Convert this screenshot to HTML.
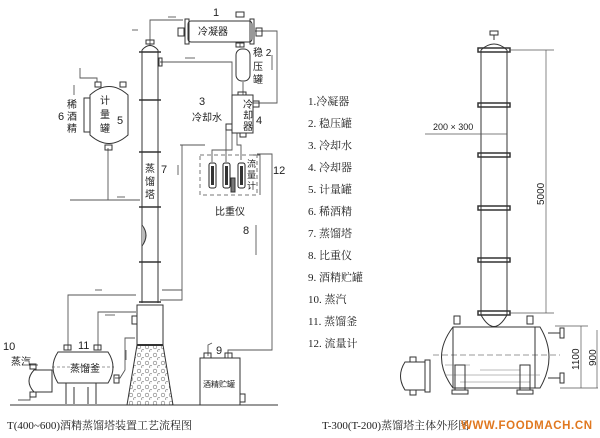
<!DOCTYPE html>
<html><head><meta charset="utf-8"><style>
html,body{margin:0;padding:0;background:#fff;}
svg{display:block;}
text{font-family:"Liberation Sans","Noto Sans CJK SC",sans-serif;fill:#222;}
.s{font-family:"Liberation Serif","Noto Serif CJK SC",serif;}
</style></head><body>
<svg width="600" height="438" viewBox="0 0 600 438" xmlns="http://www.w3.org/2000/svg">
<defs>
<pattern id="bub" width="8" height="8" patternUnits="userSpaceOnUse"><circle cx="3" cy="3" r="1.8" fill="none" stroke="#777" stroke-width="0.6"/><circle cx="7" cy="7" r="1.4" fill="none" stroke="#777" stroke-width="0.6"/></pattern>
</defs>
<g fill="none" stroke="#333" stroke-width="1">
<g stroke="#555" stroke-width="0.9">
<polyline points="150,45 150,20 183,20"/>
<polyline points="255,31 277,31 277,103 253,103"/>
<polyline points="240,42 240,47"/><polyline points="243,82 243,95"/>
<polyline points="160,62 232,62 232,150 212,150 212,162"/>
<polyline points="180,145 205,145"/>
<polyline points="182,145 182,300 160,300"/>
<polyline points="237,133 237,145 241,145 241,160"/>
<polyline points="226,125 226,162"/>
<polyline points="250,155 260,155 260,195"/>
<polyline points="257,154 272,154 272,350 228,350 228,358"/>
<polyline points="137,200 70,200"/><polyline points="80,68 80,78 97,78 97,82"/>
<polyline points="108,148 108,200 140,200"/>
<polyline points="162,290 182,290"/>
<polyline points="136,295 68,295 68,350"/>
<polyline points="136,312 98,312 98,350"/>
<polyline points="135,338 125,338 125,370 120,378 115,378"/>
<polyline points="208,356 208,345 212,343"/>
<polyline points="22,365 38,365"/><polyline points="30,395 30,400 18,400"/>
</g>
<g stroke="#444" stroke-width="0.8">
<line x1="132" y1="30" x2="138" y2="30"/><line x1="168" y1="17" x2="176" y2="17"/>
<line x1="185" y1="58" x2="195" y2="58"/><line x1="272" y1="55" x2="272" y2="70"/>
<line x1="74" y1="85" x2="74" y2="95"/><line x1="178" y1="165" x2="178" y2="175"/>
<line x1="256" y1="225" x2="256" y2="255"/><line x1="95" y1="290" x2="102" y2="290"/>
<line x1="105" y1="315" x2="115" y2="315"/><line x1="126" y1="350" x2="126" y2="360"/>
<line x1="117" y1="197" x2="125" y2="197"/>
</g>
<rect x="188" y="21" width="64" height="21" rx="3"/>
<rect x="185" y="19" width="4" height="25"/><rect x="250" y="19" width="4" height="25"/>
<rect x="178" y="28" width="6" height="8"/><rect x="256" y="28" width="6" height="8"/>
<rect x="236" y="12" width="8" height="5"/><rect x="236" y="43" width="8" height="4"/>
<rect x="236" y="49" width="14" height="32" rx="6"/>
<rect x="232" y="95" width="21" height="38"/>
<rect x="226" y="124" width="6" height="6"/><rect x="253" y="101" width="6" height="6"/>
<rect x="238" y="92" width="8" height="3"/><rect x="240" y="133" width="6" height="4"/>
<path d="M90,95 Q109,78 128,95 L128,135 Q109,152 90,135 Z"/>
<rect x="84" y="98" width="6" height="34"/>
<rect x="95" y="82" width="6" height="5"/><rect x="120" y="82" width="6" height="5"/><rect x="105" y="145" width="7" height="5"/>
<path d="M142,50 Q150,41 158,50"/><rect x="146" y="40" width="8" height="4"/>
<line x1="142" y1="50" x2="142" y2="303"/><line x1="158" y1="50" x2="158" y2="303"/>
<g stroke-width="1.5"><line x1="139" y1="52" x2="161" y2="52"/><line x1="139" y1="100" x2="161" y2="100"/><line x1="139" y1="152" x2="161" y2="152"/><line x1="139" y1="207" x2="161" y2="207"/><line x1="139" y1="262" x2="161" y2="262"/><line x1="139" y1="302" x2="161" y2="302"/></g>
<rect x="159" y="58" width="3" height="8"/>
<path d="M142,225 Q150,235 142,246" fill="#bbb"/>
<path d="M137,305 L163,305 L163,345 L137,345 Z"/>
<rect x="132" y="316" width="5" height="8"/>
<path d="M137,345 L163,345 L173,405 L127,405 Z" fill="url(#bub)"/>
<line x1="137" y1="345" x2="163" y2="345" stroke-width="2"/>
<line x1="10" y1="405" x2="278" y2="405" stroke="#333"/>
<path d="M58,352 L108,352 Q118,367 108,383 L58,383 Q48,367 58,352 Z"/>
<line x1="52" y1="367" x2="114" y2="367" stroke-width="0.5" stroke-dasharray="3,2"/>
<rect x="64" y="345" width="7" height="5"/><rect x="94" y="345" width="7" height="5"/>
<path d="M66,383 L66,404 M74,387 L74,404 M88,387 L88,404 M96,383 L96,404"/>
<rect x="114" y="375" width="5" height="8"/>
<path d="M34,370 L52,370 L52,392 L34,392 Q24,381 34,370 Z"/>
<rect x="30" y="364" width="6" height="5"/><rect x="30" y="392" width="6" height="5"/>
<rect x="200" y="155" width="57" height="40" stroke-dasharray="4,3" stroke="#777"/>
<g stroke="#222"><rect x="209" y="163" width="7" height="25" rx="2"/><rect x="223" y="163" width="7" height="25" rx="2"/><rect x="238" y="163" width="7" height="25" rx="2"/></g>
<g fill="#333" stroke="none"><rect x="211" y="166" width="3" height="19"/><rect x="225" y="166" width="3" height="19"/><rect x="240" y="166" width="3" height="19"/></g>
<rect x="231" y="178" width="4" height="14" fill="#777"/>
<rect x="200" y="358" width="40" height="47"/>
<rect x="204" y="353" width="7" height="5"/><rect x="225" y="353" width="7" height="5"/><rect x="240" y="394" width="5" height="8"/>
</g>
<g font-size="11">
<text x="213" y="16">1</text><text x="198" y="35" font-size="10">冷凝器</text>
<text x="253" y="56" font-size="10">稳 2</text><text x="253" y="70" font-size="10">压</text><text x="253" y="83" font-size="10">罐</text>
<text x="199" y="105">3</text><text x="192" y="121" font-size="10">冷却水</text>
<text x="243" y="108" font-size="10">冷</text><text x="243" y="119" font-size="10">却</text><text x="243" y="130" font-size="10">器</text><text x="256" y="124">4</text>
<text x="100" y="104" font-size="10">计</text><text x="100" y="118" font-size="10">量</text><text x="100" y="132" font-size="10">罐</text><text x="117" y="124">5</text>
<text x="58" y="120">6</text><text x="67" y="108" font-size="10">稀</text><text x="67" y="120" font-size="10">酒</text><text x="67" y="132" font-size="10">精</text>
<text x="145" y="172" font-size="10">蒸</text><text x="145" y="185" font-size="10">馏</text><text x="145" y="198" font-size="10">塔</text><text x="161" y="173">7</text>
<text x="247" y="167" font-size="9">流</text><text x="247" y="178" font-size="9">量</text><text x="247" y="189" font-size="9">计</text>
<text x="273" y="174">12</text><text x="215" y="215" font-size="10">比重仪</text><text x="243" y="234">8</text>
<text x="216" y="354">9</text><text x="203" y="387" font-size="8">酒精贮罐</text>
<text x="3" y="350">10</text><text x="11" y="365" font-size="10">蒸汽</text><text x="78" y="349">11</text>
<text x="70" y="372" font-size="10">蒸馏釜</text>
<text x="7" y="429" class="s" font-size="11">T(400~600)酒精蒸馏塔装置工艺流程图</text>
</g>
<g font-size="11" class="s">
<text x="308" y="105" class="s">1.冷凝器</text><text x="308" y="127" class="s">2. 稳压罐</text><text x="308" y="149" class="s">3. 冷却水</text><text x="308" y="171" class="s">4. 冷却器</text><text x="308" y="193" class="s">5. 计量罐</text><text x="308" y="215" class="s">6. 稀酒精</text><text x="308" y="237" class="s">7. 蒸馏塔</text><text x="308" y="259" class="s">8. 比重仪</text><text x="308" y="281" class="s">9. 酒精贮罐</text><text x="308" y="303" class="s">10. 蒸汽</text><text x="308" y="325" class="s">11. 蒸馏釜</text><text x="308" y="347" class="s">12. 流量计</text>
</g>
<g fill="none" stroke="#333" stroke-width="1">
<path d="M481,50 Q494,38 507,50"/><rect x="490" y="31" width="8" height="4"/><line x1="494" y1="35" x2="494" y2="40"/>
<line x1="481" y1="50" x2="481" y2="315"/><line x1="507" y1="50" x2="507" y2="315"/>
<g stroke-width="1.5"><rect x="478" y="48" width="32" height="4"/><rect x="478" y="103" width="32" height="4"/><rect x="478" y="153" width="32" height="4"/><rect x="478" y="206" width="32" height="4"/><rect x="478" y="258" width="32" height="4"/><rect x="478" y="311" width="32" height="4"/></g>
<path d="M481,315 Q494,338 507,315"/>
<path d="M453,327 L540,327 Q558,357 540,388 L453,388 Q430,357 453,327 Z"/>
<line x1="453" y1="327" x2="453" y2="388"/><line x1="535" y1="327" x2="535" y2="388"/>
<line x1="433" y1="355" x2="560" y2="355" stroke-width="0.5" stroke-dasharray="6,3"/>
<g stroke-width="0.5" stroke="#777"><line x1="445" y1="365" x2="470" y2="365"/><line x1="480" y1="370" x2="520" y2="370"/><line x1="445" y1="375" x2="540" y2="375"/><line x1="460" y1="382" x2="530" y2="382"/></g>
<rect x="455" y="365" width="10" height="25"/><rect x="520" y="365" width="10" height="25"/>
<rect x="452" y="390" width="16" height="4"/><rect x="517" y="390" width="16" height="4"/>
<rect x="454" y="316" width="6" height="8"/><rect x="527" y="316" width="6" height="8"/>
<line x1="548" y1="333" x2="560" y2="333"/><rect x="560" y="328" width="4" height="10"/>
<line x1="548" y1="378" x2="560" y2="378"/><rect x="560" y="373" width="4" height="10"/>
<path d="M405,362 L425,362 L425,390 L405,390 Q396,376 405,362 Z"/><rect x="425" y="360" width="5" height="32"/>
<rect x="410" y="357" width="6" height="5"/><rect x="410" y="390" width="6" height="5"/>
<g stroke="#555" stroke-width="0.7">
<line x1="510" y1="50" x2="554" y2="50"/><line x1="510" y1="313" x2="554" y2="313"/><line x1="546" y1="50" x2="546" y2="313"/>
<line x1="425" y1="134" x2="507" y2="134"/>
<line x1="555" y1="326" x2="588" y2="326"/><line x1="560" y1="388" x2="598" y2="388"/>
<line x1="581" y1="326" x2="581" y2="388"/><line x1="597" y1="330" x2="597" y2="388"/>
</g>
</g>
<text x="433" y="130" font-size="9">200 × 300</text>
<text transform="translate(544,205) rotate(-90)" font-size="10">5000</text>
<text transform="translate(579,370) rotate(-90)" font-size="10">1100</text>
<text transform="translate(596,366) rotate(-90)" font-size="10">900</text>
<text x="322" y="429" class="s" font-size="11">T-300(T-200)蒸馏塔主体外形图</text>
<text x="461" y="429" font-size="11.5" font-weight="bold" style="fill:#e07820" letter-spacing="0.6">WWW.FOODMACH.CN</text>
</svg>
</body></html>
